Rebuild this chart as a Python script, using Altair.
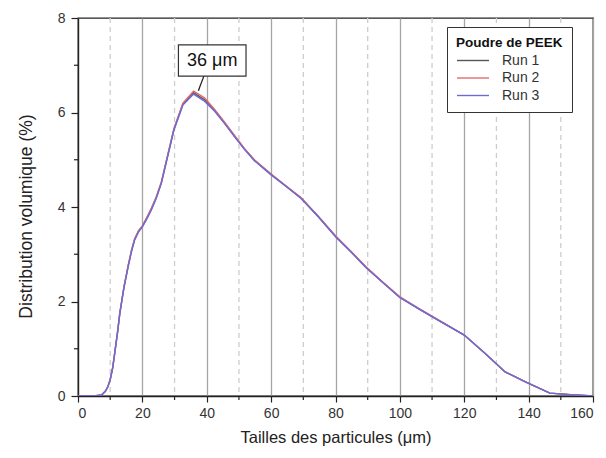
import altair as alt
import pandas as pd

# ---- data ----
runs = ["Run 1", "Run 2", "Run 3"]
run_colors = ["#555555", "#e06a6a", "#6a6ad8"]

sizes = [0, 5, 7.3, 8.5, 9.3, 10, 10.8, 11.5, 12.3, 13, 14.3, 15.6, 16.6, 17.6, 18.8,
         20, 21.4, 22.8, 24.3, 25.9, 27.8, 29.8, 32.6, 35.9, 39.3, 42.4, 45.5, 48.6,
         51.7, 54.8, 60, 64.6, 69.3, 74.6, 80, 84.7, 89.4, 94.7, 100, 106, 112, 120,
         126.5, 132.7, 139, 146.6, 153, 160]

run3 = [0, 0, 0.02, 0.10, 0.20, 0.34, 0.60, 0.95, 1.35, 1.75, 2.30, 2.74, 3.05, 3.30,
        3.47, 3.58, 3.75, 3.94, 4.18, 4.50, 5.05, 5.63, 6.16, 6.39, 6.24, 6.03, 5.77,
        5.49, 5.22, 4.98, 4.68, 4.44, 4.18, 3.80, 3.37, 3.06, 2.72, 2.40, 2.08, 1.84,
        1.60, 1.29, 0.90, 0.51, 0.30, 0.06, 0.03, 0]
run2 = [0, 0, 0.02, 0.10, 0.20, 0.34, 0.60, 0.95, 1.36, 1.76, 2.32, 2.77, 3.08, 3.33,
        3.50, 3.60, 3.78, 3.98, 4.21, 4.53, 5.08, 5.66, 6.20, 6.45, 6.31, 6.07, 5.80,
        5.52, 5.24, 5.00, 4.70, 4.45, 4.20, 3.81, 3.39, 3.07, 2.74, 2.41, 2.10, 1.85,
        1.61, 1.29, 0.90, 0.51, 0.30, 0.06, 0.03, 0]
run1 = [0, 0, 0.02, 0.10, 0.20, 0.35, 0.61, 0.96, 1.36, 1.76, 2.31, 2.76, 3.07, 3.32,
        3.49, 3.59, 3.77, 3.96, 4.20, 4.52, 5.07, 5.64, 6.18, 6.42, 6.27, 6.05, 5.78,
        5.50, 5.23, 4.99, 4.69, 4.44, 4.19, 3.80, 3.38, 3.06, 2.73, 2.40, 2.09, 1.84,
        1.60, 1.29, 0.90, 0.51, 0.30, 0.06, 0.03, 0]

x_major = list(range(0, 161, 20))
x_minor = list(range(10, 160, 20))
y_major = list(range(0, 9, 2))
y_minor = list(range(1, 8, 2))

peak_label = "36 μm"
peak_x, peak_y = 37.4, 6.46
label_x, label_y = 41.7, 7.1
box_x, box_x2, box_y, box_y2 = 31.2, 52.2, 6.77, 7.43
lead_x, lead_y = 39.1, 6.77

rows = []
for name, vals in zip(runs, (run1, run2, run3)):
    for s, v in zip(sizes, vals):
        rows.append({"size": s, "vol": v, "run": name})
df = pd.DataFrame(rows)

FONT = "Liberation Sans"
AXIS_C = "#222"
xscale = alt.Scale(domain=[0, 160], nice=False, zero=False)
yscale = alt.Scale(domain=[0, 8], nice=False)

x_axis = alt.Axis(
    values=x_major, grid=True, gridColor="#a5a5a5", gridWidth=1.3,
    tickSize=6, tickColor=AXIS_C, domainColor=AXIS_C, domainWidth=1.3, tickWidth=1.2,
    labelFontSize=14, labelColor="#333", labelFont=FONT, labelPadding=4,
    titleFontSize=16.5, titleColor="#222", titleFont=FONT, titleFontWeight="normal",
    titlePadding=9,
)
y_axis = alt.Axis(
    values=y_major, grid=False,
    tickSize=7, tickColor=AXIS_C, domainColor=AXIS_C, domainWidth=1.3, tickWidth=1.2,
    labelFontSize=14, labelColor="#333", labelFont=FONT, labelPadding=6,
    titleFontSize=17.5, titleColor="#222", titleFont=FONT, titleFontWeight="normal",
    titlePadding=22, titleY=198,
)

# minor grid lines and minor ticks
xminor_df = pd.DataFrame({"v": x_minor})
yminor_df = pd.DataFrame({"v": y_minor})
minor_grid = alt.Chart(xminor_df).mark_rule(
    color="#cdcdcd", strokeWidth=1.3, strokeDash=[5, 4]
).encode(x=alt.X("v:Q", scale=xscale))
minor_xticks = alt.Chart(xminor_df).mark_rule(color=AXIS_C, strokeWidth=1.2).encode(
    x=alt.X("v:Q", scale=xscale), y=alt.value(378), y2=alt.value(382))
minor_yticks = alt.Chart(yminor_df).mark_rule(color=AXIS_C, strokeWidth=1.2).encode(
    y=alt.Y("v:Q", scale=yscale), x=alt.value(-4), x2=alt.value(0))

lines = alt.Chart(df).mark_line(strokeWidth=1.4, clip=True).encode(
    x=alt.X("size:Q", scale=xscale, axis=x_axis, title="Tailles des particules (μm)"),
    y=alt.Y("vol:Q", scale=yscale, axis=y_axis, title="Distribution volumique (%)"),
    color=alt.Color(
        "run:N",
        scale=alt.Scale(domain=runs, range=run_colors),
        legend=alt.Legend(
            title="Poudre de PEEK", orient="none", legendX=369, legendY=9,
            symbolType="M-2,0H2", symbolSize=256, symbolStrokeWidth=1.4,
            symbolOffset=8,
            strokeColor="#333", fillColor="white", padding=9,
            titleFontSize=13.5, titleFontWeight="bold", titleColor="#111", titleFont=FONT,
            titlePadding=2, labelFontSize=14, labelColor="#333", labelFont=FONT,
            labelOffset=20, rowPadding=1.5,
        ),
    ),
    order=alt.Order("run:N"),
)

ann_df = pd.DataFrame({
    "x": [box_x], "x2": [box_x2], "y": [box_y], "y2": [box_y2],
    "lx": [label_x], "ly": [label_y], "text": [peak_label],
    "ax": [lead_x], "ay": [lead_y], "px": [peak_x], "py": [peak_y],
})
base = alt.Chart(ann_df)
leader = base.mark_rule(color="#222", strokeWidth=1.3).encode(
    x=alt.X("ax:Q", scale=xscale), y=alt.Y("ay:Q", scale=yscale),
    x2="px:Q", y2="py:Q")
box = base.mark_rect(fill="white", stroke="#333", strokeWidth=1.2).encode(
    x=alt.X("x:Q", scale=xscale), x2="x2:Q",
    y=alt.Y("y:Q", scale=yscale), y2="y2:Q")
label = base.mark_text(fontSize=18, font=FONT, color="#111").encode(
    x=alt.X("lx:Q", scale=xscale), y=alt.Y("ly:Q", scale=yscale), text="text:N")

chart = alt.layer(minor_grid, lines, minor_xticks, minor_yticks, leader, box, label).properties(
    width=515, height=378,
    padding={"left": 70, "top": 10, "right": 5, "bottom": 54},
    autosize=alt.AutoSizeParams(type="none"),
).configure_view(stroke="#222", strokeWidth=1.3)

chart.save("out.html", embed_options={"renderer": "svg", "actions": False})
